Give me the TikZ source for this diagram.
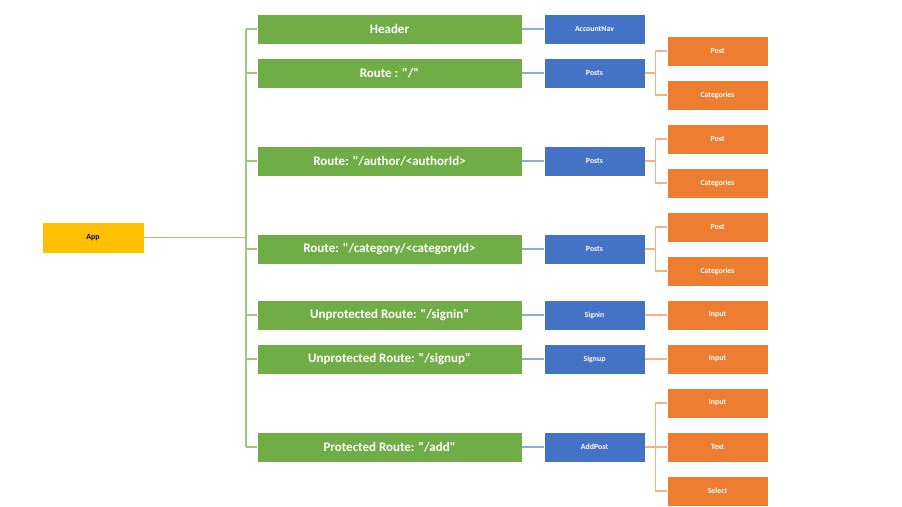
\documentclass[tikz,border=0pt]{standalone}
\usepackage{fontspec}
\newfontfamily\labelfont{Carlito}
\usetikzlibrary{calc}

\definecolor{appyellow}{HTML}{FFC000}
\definecolor{routegreen}{HTML}{70AD47}
\definecolor{compblue}{HTML}{4472C4}
\definecolor{leaforange}{HTML}{ED7D31}
\definecolor{greenlink}{HTML}{9CC97E}
\definecolor{bluelink}{HTML}{8FAADC}
\definecolor{orangelink}{HTML}{F4B183}

\begin{document}
\begin{tikzpicture}[x=1pt, y=1pt,
  routebox/.style={draw=white, line width=0.6pt, fill=routegreen, text=white, font=\labelfont\bfseries\fontsize{13}{15}\selectfont, minimum width=265, minimum height=30, inner sep=0},
  compbox/.style={draw=white, line width=0.6pt, fill=compblue, text=white, font=\labelfont\bfseries\fontsize{7.8}{9}\selectfont, minimum width=101, minimum height=30, inner sep=0},
  leafbox/.style={draw=white, line width=0.6pt, fill=leaforange, text=white, font=\labelfont\bfseries\fontsize{7.8}{9}\selectfont, minimum width=101, minimum height=30, inner sep=0},
  glink/.style={draw=greenlink, line width=1.2pt},
  blink/.style={draw=bluelink, line width=1.2pt},
  olink/.style={draw=orangelink, line width=1.2pt}]
  \useasboundingbox (0,0) rectangle (902,506);

  % root
  \node[draw=white, line width=0.6pt, fill=appyellow, font=\labelfont\bfseries\fontsize{7.8}{9}\selectfont, minimum width=102, minimum height=31, inner sep=0] (app) at (93,268.5) {App};
  \coordinate (trunktop) at (246,477);
  \coordinate (trunkbot) at (246,59);

  % routes
  \node[routebox] (header) at (389.5,477) {Header};
  \node[routebox] (rhome) at (389.5,433) {Route : "/"};
  \node[routebox] (rauthor) at (389.5,345) {Route: "/author/<authorId>};
  \node[routebox] (rcategory) at (389.5,257) {Route: "/category/<categoryId>};
  \node[routebox] (rsignin) at (389.5,191) {Unprotected Route: "/signin"};
  \node[routebox] (rsignup) at (389.5,147) {Unprotected Route: "/signup"};
  \node[routebox] (radd) at (389.5,59) {Protected Route: "/add"};

  % components
  \node[compbox] (accnav) at (594.5,477) {AccountNav};
  \node[compbox] (postsa) at (594.5,433) {Posts};
  \node[compbox] (postsb) at (594.5,345) {Posts};
  \node[compbox] (postsc) at (594.5,257) {Posts};
  \node[compbox] (signin) at (594.5,191) {Signin};
  \node[compbox] (signup) at (594.5,147) {Signup};
  \node[compbox] (addpost) at (594.5,59) {AddPost};

  % leaves
  \node[leafbox] (posta) at (717.5,455) {Post};
  \node[leafbox] (cata) at (717.5,411) {Categories};
  \node[leafbox] (postb) at (717.5,367) {Post};
  \node[leafbox] (catb) at (717.5,323) {Categories};
  \node[leafbox] (postc) at (717.5,279) {Post};
  \node[leafbox] (catc) at (717.5,235) {Categories};
  \node[leafbox] (inputa) at (717.5,191) {Input};
  \node[leafbox] (inputb) at (717.5,147) {Input};
  \node[leafbox] (inputc) at (717.5,103) {Input};
  \node[leafbox] (textf) at (717.5,59) {Text};
  \node[leafbox] (selectf) at (717.5,15) {Select};

  % app to routes
  \draw[glink] (app.east) -- (app.east -| trunktop);
  \draw[glink] (trunktop) -- (trunkbot);
  \draw[glink] (trunktop) -- (header.west);
  \draw[glink] (rhome.west -| trunktop) -- (rhome.west);
  \draw[glink] (rauthor.west -| trunktop) -- (rauthor.west);
  \draw[glink] (rcategory.west -| trunktop) -- (rcategory.west);
  \draw[glink] (rsignin.west -| trunktop) -- (rsignin.west);
  \draw[glink] (rsignup.west -| trunktop) -- (rsignup.west);
  \draw[glink] (trunkbot) -- (radd.west);

  % routes to components
  \draw[blink] (header.east) -- (accnav.west);
  \draw[blink] (rhome.east) -- (postsa.west);
  \draw[blink] (rauthor.east) -- (postsb.west);
  \draw[blink] (rcategory.east) -- (postsc.west);
  \draw[blink] (rsignin.east) -- (signin.west);
  \draw[blink] (rsignup.east) -- (signup.west);
  \draw[blink] (radd.east) -- (addpost.west);

  % components to leaves
  \draw[olink] (postsa.east) -- ++(11,0);
  \draw[olink] (posta.west) -- ++(-11,0) |- (cata.west);
  \draw[olink] (postsb.east) -- ++(11,0);
  \draw[olink] (postb.west) -- ++(-11,0) |- (catb.west);
  \draw[olink] (postsc.east) -- ++(11,0);
  \draw[olink] (postc.west) -- ++(-11,0) |- (catc.west);
  \draw[olink] (signin.east) -- (inputa.west);
  \draw[olink] (signup.east) -- (inputb.west);
  \draw[olink] (addpost.east) -- (textf.west);
  \draw[olink] (inputc.west) -- ++(-11,0) |- (selectf.west);
\end{tikzpicture}
\end{document}
